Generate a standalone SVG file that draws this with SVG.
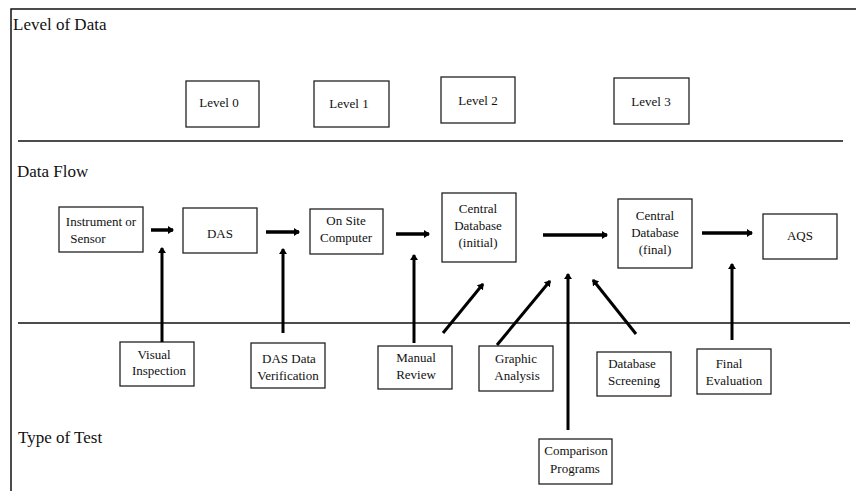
<svg xmlns="http://www.w3.org/2000/svg" width="856" height="491" viewBox="0 0 856 491">
  <style>
    .box { fill: #fff; stroke: #222; stroke-width: 1.3; }
    .lbl { font-family: "Liberation Serif", "Times New Roman", serif; font-size: 13px; fill: #111; text-anchor: middle; }
    .sec { font-family: "Liberation Serif", "Times New Roman", serif; font-size: 17px; fill: #111; }
    .rule { stroke: #111; stroke-width: 1.5; fill: none; }
    .flow { stroke: #000; stroke-width: 3.5; fill: none; marker-end: url(#head); }
    .test { stroke: #000; stroke-width: 3; fill: none; marker-end: url(#head); }
  </style>
  <defs>
    <marker id="head" viewBox="0 0 6 8" refX="5" refY="4" markerWidth="6" markerHeight="8" markerUnits="userSpaceOnUse" orient="auto">
      <path d="M0,0 L6,4 L0,8 Z" fill="#000"/>
    </marker>
  </defs>

  <rect width="856" height="491" fill="#fff"/>

  <!-- frame and band dividers -->
  <g id="frame">
    <path class="rule" d="M11,491 V9 H856"/>
    <line class="rule" x1="18" y1="141" x2="843" y2="141"/>
    <line class="rule" x1="18" y1="323" x2="850" y2="323"/>
    <text class="sec" x="13" y="30">Level of Data</text>
    <text class="sec" x="17" y="177">Data Flow</text>
    <text class="sec" x="18" y="443">Type of Test</text>
  </g>

  <!-- data levels -->
  <g id="level0"><rect class="box" x="186" y="81" width="73" height="46"/><text class="lbl" x="219" y="107">Level 0</text></g>
  <g id="level1"><rect class="box" x="314" y="81" width="75" height="46"/><text class="lbl" x="349" y="108">Level 1</text></g>
  <g id="level2"><rect class="box" x="441" y="77" width="74" height="46"/><text class="lbl" x="478" y="105">Level 2</text></g>
  <g id="level3"><rect class="box" x="614" y="78" width="75" height="46"/><text class="lbl" x="651" y="106">Level 3</text></g>

  <!-- data flow -->
  <g id="instrument"><rect class="box" x="59" y="207" width="84" height="45"/><text class="lbl" x="101" y="226">Instrument or</text><text class="lbl" x="88" y="243">Sensor</text></g>
  <g id="das"><rect class="box" x="183" y="208" width="74" height="45"/><text class="lbl" x="220" y="238">DAS</text></g>
  <g id="onsite"><rect class="box" x="310" y="209" width="73" height="45"/><text class="lbl" x="346" y="225">On Site</text><text class="lbl" x="346" y="242">Computer</text></g>
  <g id="central-initial"><rect class="box" x="442" y="193" width="74" height="69"/><text class="lbl" x="478" y="213">Central</text><text class="lbl" x="478" y="230">Database</text><text class="lbl" x="478" y="247">(initial)</text></g>
  <g id="central-final"><rect class="box" x="618" y="199" width="74" height="69"/><text class="lbl" x="655" y="220">Central</text><text class="lbl" x="655" y="237">Database</text><text class="lbl" x="655" y="254">(final)</text></g>
  <g id="aqs"><rect class="box" x="763" y="214" width="74" height="45"/><text class="lbl" x="800" y="240">AQS</text></g>

  <!-- tests -->
  <g id="visual"><rect class="box" x="120" y="342" width="74" height="44"/><text class="lbl" x="154" y="359">Visual</text><text class="lbl" x="159" y="375">Inspection</text></g>
  <g id="dasver"><rect class="box" x="251" y="343" width="74" height="45"/><text class="lbl" x="289" y="363">DAS  Data</text><text class="lbl" x="288" y="380">Verification</text></g>
  <g id="manual"><rect class="box" x="378" y="346" width="74" height="43"/><text class="lbl" x="416" y="362">Manual</text><text class="lbl" x="416" y="379">Review</text></g>
  <g id="graphic"><rect class="box" x="479" y="346" width="74" height="45"/><text class="lbl" x="516" y="363">Graphic</text><text class="lbl" x="517" y="380">Analysis</text></g>
  <g id="screening"><rect class="box" x="597" y="352" width="74" height="44"/><text class="lbl" x="632" y="368">Database</text><text class="lbl" x="634" y="385">Screening</text></g>
  <g id="final"><rect class="box" x="697" y="349" width="74" height="45"/><text class="lbl" x="729" y="368">Final</text><text class="lbl" x="734" y="385">Evaluation</text></g>
  <g id="comparison"><rect class="box" x="539" y="439" width="73" height="45"/><text class="lbl" x="576" y="455">Comparison</text><text class="lbl" x="575" y="473">Programs</text></g>

  <!-- connectors -->
  <g id="connectors">
    <line class="flow" x1="151" y1="230" x2="173" y2="230"/>
    <line class="flow" x1="266" y1="232" x2="299" y2="232"/>
    <line class="flow" x1="396" y1="234" x2="429" y2="234"/>
    <line class="flow" x1="543" y1="235" x2="607" y2="235"/>
    <line class="flow" x1="702" y1="233" x2="752" y2="233"/>

    <line class="test" x1="162" y1="342" x2="162" y2="248"/>
    <line class="test" x1="283" y1="333" x2="283" y2="249"/>
    <line class="test" x1="414" y1="343" x2="414" y2="255"/>
    <line class="test" x1="443" y1="333" x2="483" y2="284"/>
    <line class="test" x1="497" y1="345" x2="550" y2="281"/>
    <line class="test" x1="568" y1="430" x2="568" y2="274"/>
    <line class="test" x1="636" y1="334" x2="593" y2="280"/>
    <line class="test" x1="732" y1="340" x2="732" y2="264"/>
  </g>
</svg>
